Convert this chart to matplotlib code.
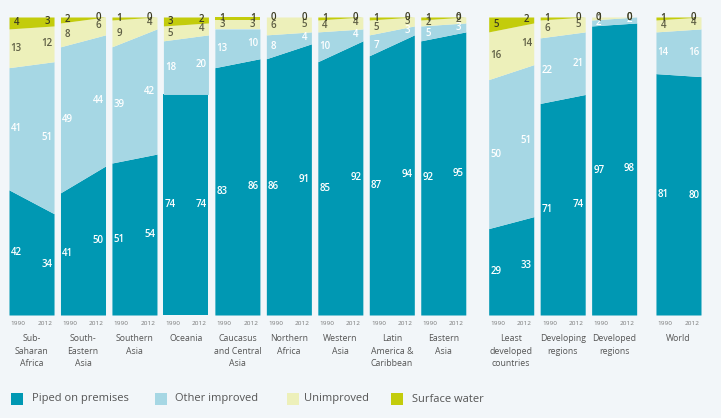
import matplotlib
matplotlib.use("Agg")
import matplotlib.pyplot as plt
from matplotlib.patches import Rectangle

# ---------------- data ----------------
regions = ["Sub-\nSaharan\nAfrica", "South-\nEastern\nAsia", "Southern\nAsia", "Oceania",
           "Caucasus\nand Central\nAsia", "Northern\nAfrica", "Western\nAsia",
           "Latin\nAmerica &\nCaribbean", "Eastern\nAsia", "Least\ndeveloped\ncountries",
           "Developing\nregions", "Developed\nregions", "World"]
years = ["1990", "2012"]
piped_1990 = [42, 41, 51, 74, 83, 86, 85, 87, 92, 29, 71, 97, 81]
piped_2012 = [34, 50, 54, 74, 86, 91, 92, 94, 95, 33, 74, 98, 80]
other_1990 = [41, 49, 39, 18, 13, 8, 10, 7, 5, 50, 22, 2, 14]
other_2012 = [51, 44, 42, 20, 10, 4, 4, 3, 3, 51, 21, 2, 16]
unimp_1990 = [13, 8, 9, 5, 3, 6, 4, 5, 2, 16, 6, 1, 4]
unimp_2012 = [12, 6, 4, 4, 3, 5, 4, 3, 2, 14, 5, 0, 4]
surf_1990 = [4, 2, 1, 3, 1, 0, 1, 1, 1, 5, 1, 0, 1]
surf_2012 = [3, 0, 0, 2, 1, 0, 0, 0, 0, 2, 0, 0, 0]
series_names = ["Piped on premises", "Other improved", "Unimproved", "Surface water"]

# ---------------- style ----------------
BG = "#f2f6f9"
colors = ["#0098b3", "#a6d7e4", "#edf0ba", "#c3cc0c"]
label_colors = ["white", "white", "#5f5f45", "#3c3c22"]
FONT = "Open Sans"

W, H = 721, 418
fig = plt.figure(figsize=(W / 100, H / 100), dpi=100, facecolor=BG)

left_px, right_px, top_px, bot_px = 9, 701, 17, 315
ax = fig.add_axes([left_px / W, 1 - bot_px / H, (right_px - left_px) / W, (bot_px - top_px) / H])
ax.set_facecolor(BG)
for s in ax.spines.values():
    s.set_visible(False)
ax.set_xticks([])
ax.set_yticks([])

pw = 0.875  # panel width in slot units
gaps = {9: 0.32, 12: 0.25}
x_left = []
cur = 0.0
for i in range(len(regions)):
    if i in gaps:
        cur += gaps[i]
    x_left.append(cur)
    cur += 1
ax.set_xlim(0, x_left[-1] + pw)
ax.set_ylim(0, 100)

s1990 = [piped_1990, other_1990, unimp_1990, surf_1990]
s2012 = [piped_2012, other_2012, unimp_2012, surf_2012]

inset = 0.14
for i in range(len(regions)):
    x0, x1 = x_left[i], x_left[i] + pw
    b0 = b1 = 0
    for k in range(4):
        v0, v1 = s1990[k][i], s2012[k][i]
        ax.fill_between([x0, x1], [b0, b1], [b0 + v0, b1 + v1], color=colors[k], lw=0)
        ax.text(x0 + inset, b0 + v0 / 2, str(v0), ha="center", va="center", fontsize=7,
                color=label_colors[k], family=FONT, weight="semibold")
        ax.text(x1 - inset, b1 + v1 / 2, str(v1), ha="center", va="center", fontsize=7,
                color=label_colors[k], family=FONT, weight="semibold")
        b0 += v0
        b1 += v1
    # year ticks
    ax.text(x0 + inset + 0.04, -3, years[0], ha="center", va="center", fontsize=4.6,
            color="#777777", family=FONT)
    ax.text(x1 - inset - 0.04, -3, years[1], ha="center", va="center", fontsize=4.6,
            color="#777777", family=FONT)
    ax.text((x0 + x1) / 2, -6.5, regions[i], ha="center", va="top", fontsize=6.3,
            color="#555555", family=FONT, linespacing=1.45)

# ---------------- legend ----------------
leg_sq_x = [11, 155, 287, 391]
leg_tx_x = [32, 175, 304, 412]
for k in range(4):
    fig.add_artist(Rectangle((leg_sq_x[k] / W, 1 - 405 / H), 12 / W, 12 / H,
                             transform=fig.transFigure, facecolor=colors[k], lw=0))
    fig.text(leg_tx_x[k] / W, 1 - 399 / H, series_names[k], ha="left", va="center",
             fontsize=8, color="#555555", family=FONT)

fig.savefig("out.png", dpi=100, facecolor=BG)
